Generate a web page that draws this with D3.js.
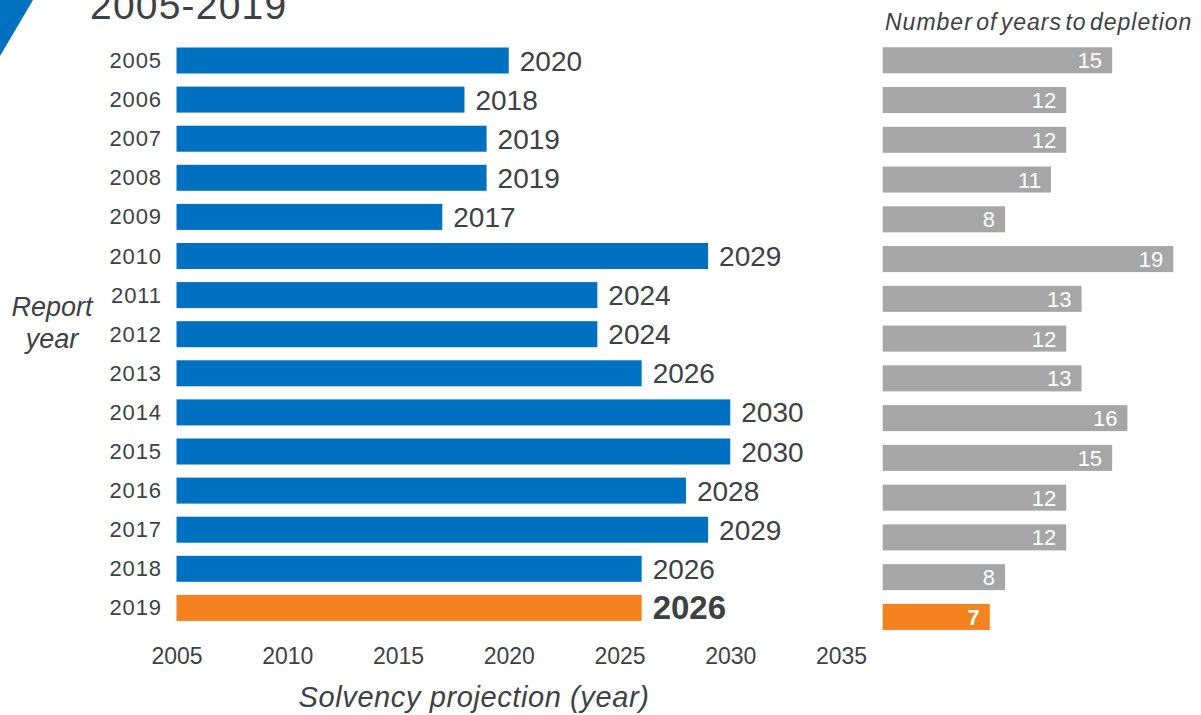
<!DOCTYPE html>
<html>
<head>
<meta charset="utf-8">
<script src="https://cdn.jsdelivr.net/npm/d3@7"></script>
<style>
  html, body { margin: 0; padding: 0; background: #ffffff; }
  svg { display: block; font-family: "Liberation Sans", Arial, sans-serif; }
</style>
</head>
<body>
<svg id="chart" width="1201" height="715"></svg>
<script>
// ---- Data ----
const reportYears = ["2005","2006","2007","2008","2009","2010","2011","2012","2013","2014","2015","2016","2017","2018","2019"];
const solvencyYear = [2020, 2018, 2019, 2019, 2017, 2029, 2024, 2024, 2026, 2030, 2030, 2028, 2029, 2026, 2026];
const yearsToDepletion = [15, 12, 12, 11, 8, 19, 13, 12, 13, 16, 15, 12, 12, 8, 7];
const xTickValues = [2005, 2010, 2015, 2020, 2025, 2030, 2035];
const titleText = "2005-2019";
const xAxisTitle = "Solvency projection (year)";
const yAxisTitle = ["Report", "year"];
const rightTitle = "Number of years to depletion";
const highlightYear = "2019";

// ---- Styles ----
const BLUE = "#0070c0", ORANGE = "#f5821f", GRAY = "#a6a6a6", TEXT = "#3d4145";

const svg = d3.select("#chart");
const rows = reportYears.map((r, i) => ({ report: r, solv: solvencyYear[i], dep: yearsToDepletion[i] }));

// decorative corner triangle
svg.append("path").attr("d", "M0,0 L33,0 L0,56 Z").attr("fill", BLUE);

// title (partially cut at top, as in the reference)
svg.append("text").attr("x", 90).attr("y", 19)
  .attr("font-size", 39).attr("letter-spacing", 1.2).attr("fill", TEXT)
  .text(titleText);

// ---- Left chart ----
const x = d3.scaleLinear().domain([2005, 2035]).range([176.5, 841]);
const yL = d3.scaleBand().domain(reportYears).range([40.95, 627.45])
  .paddingInner(0.335).paddingOuter(0.1675);

svg.append("g").selectAll("rect").data(rows).join("rect")
  .attr("x", x(2005))
  .attr("y", d => yL(d.report))
  .attr("width", d => x(d.solv) - x(2005))
  .attr("height", yL.bandwidth())
  .attr("fill", d => d.report === highlightYear ? ORANGE : BLUE);

svg.append("g").selectAll("text").data(rows).join("text")
  .attr("x", d => x(d.solv) + 11)
  .attr("y", d => yL(d.report) + yL.bandwidth() / 2 + (d.report === highlightYear ? 11.5 : 10))
  .attr("font-size", d => d.report === highlightYear ? 33 : 28)
  .attr("font-weight", d => d.report === highlightYear ? "bold" : "normal")
  .attr("fill", TEXT)
  .text(d => d.solv);

// y axis (report years)
const yAxis = svg.append("g").attr("transform", "translate(162,0)")
  .call(d3.axisLeft(yL).tickSize(0).tickPadding(0));
yAxis.select(".domain").remove();
yAxis.selectAll("text").attr("font-size", 22).attr("letter-spacing", 0.9)
  .attr("fill", TEXT).attr("dy", null).attr("dominant-baseline", "central")
  .attr("font-family", "Liberation Sans, Arial, sans-serif");

// x axis
const xAxis = svg.append("g").attr("transform", "translate(0,664)")
  .call(d3.axisBottom(x).tickValues(xTickValues).tickFormat(d3.format("d")).tickSize(0).tickPadding(0));
xAxis.select(".domain").remove();
xAxis.selectAll("text").attr("font-size", 23).attr("fill", TEXT).attr("dy", 0)
  .attr("font-family", "Liberation Sans, Arial, sans-serif");

// axis titles
svg.append("text").attr("x", 474).attr("y", 707).attr("text-anchor", "middle")
  .attr("font-size", 29).attr("font-style", "italic").attr("letter-spacing", 0.6)
  .attr("fill", TEXT).text(xAxisTitle);

svg.append("g").selectAll("text").data(yAxisTitle).join("text")
  .attr("x", 52).attr("y", (d, i) => 316 + i * 32).attr("text-anchor", "middle")
  .attr("font-size", 27).attr("font-style", "italic").attr("fill", TEXT)
  .text(d => d);

// ---- Right chart ----
const xR = d3.scaleLinear().domain([0, 19]).range([882.7, 1173.3]);
const yR = d3.scaleBand().domain(reportYears).range([40.4, 636.8])
  .paddingInner(0.346).paddingOuter(0.173);

svg.append("g").selectAll("rect").data(rows).join("rect")
  .attr("x", xR(0))
  .attr("y", d => yR(d.report))
  .attr("width", d => xR(d.dep) - xR(0))
  .attr("height", yR.bandwidth())
  .attr("fill", d => d.report === highlightYear ? ORANGE : GRAY);

svg.append("g").selectAll("text").data(rows).join("text")
  .attr("x", d => xR(d.dep) - 10)
  .attr("y", d => yR(d.report) + yR.bandwidth() / 2 + 8)
  .attr("text-anchor", "end")
  .attr("font-size", 22)
  .attr("font-weight", d => d.report === highlightYear ? "bold" : "normal")
  .attr("fill", "#ffffff")
  .text(d => d.dep);

svg.append("text").attr("x", 885).attr("y", 30)
  .attr("font-size", 23).attr("font-style", "italic").attr("fill", TEXT)
  .attr("word-spacing", -4).attr("letter-spacing", 1.0)
  .text(rightTitle);
</script>
</body>
</html>
